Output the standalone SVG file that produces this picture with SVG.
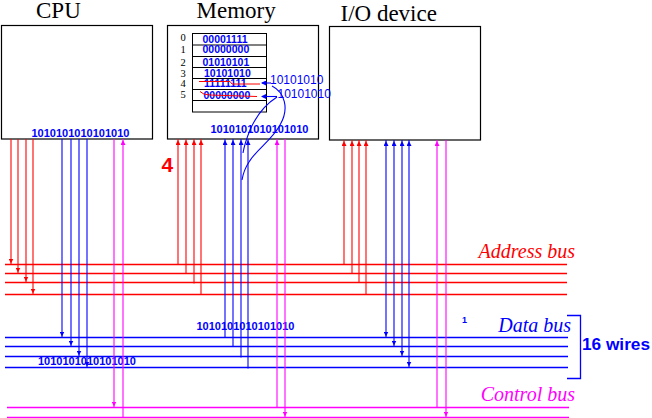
<svg xmlns="http://www.w3.org/2000/svg" width="652" height="418" viewBox="0 0 652 418">
<style>
.box{fill:#fff;stroke:#000;stroke-width:1.2}
.title{font-family:"Liberation Serif",serif;font-size:23px;fill:#000}
.bits{font-family:"Liberation Sans",Arial,sans-serif;font-weight:bold;font-size:11px;fill:#0000ff}
.cell{font-family:"Liberation Sans",Arial,sans-serif;font-weight:bold;font-size:10.5px;fill:#0000ff}
.lbl{font-family:"Liberation Serif",serif;font-size:10.5px;fill:#000}
.bus{fill:none;stroke-width:1.3}
.w{fill:none;stroke-width:1.1}
.r{stroke:#ff0000}.b{stroke:#0000ff}.m{stroke:#ff00ff}
.it{font-family:"Liberation Serif",serif;font-style:italic;font-size:20px}
</style>
<defs>
<marker id="ar" markerWidth="5" markerHeight="5" refX="6" refY="2.5" orient="auto" markerUnits="userSpaceOnUse"><path d="M0,0 L5,2.5 L0,5 z" fill="#ff0000"/></marker>
<marker id="ab" markerWidth="5" markerHeight="5" refX="6" refY="2.5" orient="auto-start-reverse" markerUnits="userSpaceOnUse"><path d="M0,0 L5,2.5 L0,5 z" fill="#0000ff"/></marker>
<marker id="am" markerWidth="5" markerHeight="5" refX="6" refY="2.5" orient="auto" markerUnits="userSpaceOnUse"><path d="M0,0 L5,2.5 L0,5 z" fill="#ff00ff"/></marker>
<marker id="abs" markerWidth="5" markerHeight="5" refX="4" refY="2.5" orient="auto" markerUnits="userSpaceOnUse"><path d="M0,0 L5,2.5 L0,5 z" fill="#0000ff"/></marker>
</defs>

<g id="cpu">
<text class="title" x="36" y="18">CPU</text>
<rect class="box" x="1.5" y="25.5" width="151" height="113.5"/>
<text class="bits" x="31.5" y="136.5">1010101010101010</text>
</g>

<g id="memory">
<text class="title" x="196.5" y="17.5">Memory</text>
<rect class="box" x="167.5" y="25.5" width="151" height="113.5"/>
<g fill="none" stroke="#000" stroke-width="1">
<rect x="192.5" y="33.5" width="74" height="78.5"/>
<path d="M192.5,45H266.5M192.5,56.5H266.5M192.5,67.5H266.5M192.5,78.5H266.5M192.5,89.5H266.5M192.5,100.5H266.5"/>
</g>
<g class="lbl">
<text x="180.5" y="41">0</text>
<text x="180.5" y="52.7">1</text>
<text x="180.5" y="66">2</text>
<text x="180.5" y="77.3">3</text>
<text x="180.5" y="87.3">4</text>
<text x="180.5" y="98.3">5</text>
</g>
<g class="cell">
<text x="202.5" y="42.5">00001111</text>
<text x="202.5" y="53">00000000</text>
<text x="202.5" y="66">01010101</text>
<text x="204" y="76.7">10101010</text>
<text x="204" y="87.3">11111111</text>
<text x="203.5" y="98.5">00000000</text>
</g>
<path d="M199,81.5 L230,81.5 L232,84 L260,84" fill="none" stroke="#ff0000" stroke-width="1"/>
<path d="M200,91.5 Q203,95 210,95 L257,96.5" fill="none" stroke="#ff0000" stroke-width="1"/>
<text class="bits" x="210.5" y="133">1010101010101010</text>
</g>

<g id="io">
<text class="title" x="340.5" y="20.5">I/O device</text>
<rect class="box" x="329.5" y="26.5" width="151" height="113.5"/>
</g>

<g id="buses">
<path class="bus r" d="M5,264.5H567M5,273.5H567M5,282.5H567M5,294.5H567"/>
<path class="bus b" d="M5,337.5H568M5,346.5H568M5,356.5H568M5,367.5H568"/>
<path class="bus m" d="M7,407.5H569M7,417.5H569"/>
<text class="it" x="575" y="258" text-anchor="end" fill="#ff0000">Address bus</text>
<text class="it" x="571" y="332" text-anchor="end" fill="#0000ff">Data bus</text>
<text class="it" x="575" y="401" text-anchor="end" fill="#ff00ff">Control bus</text>
<path d="M567,315.5H580.5V378.5H567" fill="none" stroke="#0000ff" stroke-width="1.3"/>
<text x="582" y="350" font-family="Liberation Sans,sans-serif" font-weight="bold" font-size="16" textLength="68" lengthAdjust="spacingAndGlyphs" fill="#0000ff">16 wires</text>
<text x="462" y="323" font-family="Liberation Sans,sans-serif" font-weight="bold" font-size="9" fill="#0000ff">1</text>
<text class="bits" x="196.5" y="329.5">1010101010101010</text>
<text class="bits" x="38" y="364.5">1010101010101010</text>
</g>

<g id="connectors">
<g class="w r" marker-end="url(#ar)">
<path d="M11,139V264.5"/><path d="M18,139V273.5"/><path d="M26,139V282.5"/><path d="M33,139V294.5"/>
</g>
<g class="w b" marker-end="url(#ab)">
<path d="M62,139V337.5"/><path d="M71,139V346.5"/><path d="M79,139V356.5"/><path d="M87,139V367.5"/>
</g>
<path class="w m" d="M114,139V407.5" marker-end="url(#am)"/>
<path class="w m" d="M123,417.5V139" marker-end="url(#am)"/>
<g class="w r" marker-end="url(#ar)">
<path d="M178,264.5V139"/><path d="M186,273.5V139"/><path d="M194,283.5V139"/><path d="M201,294.5V139"/>
</g>
<g class="w b" marker-end="url(#ab)">
<path d="M225,338V139"/><path d="M233,346.5V139"/><path d="M241,357.5V139"/><path d="M248,368.5V139"/>
</g>
<path class="w m" d="M277,407.5V139" marker-end="url(#am)"/>
<path class="w m" d="M285,139V417.5" marker-end="url(#am)"/>
<g class="w r" marker-end="url(#ar)">
<path d="M344,264.5V140"/><path d="M352,273.5V140"/><path d="M359,282.5V140"/><path d="M366,294.5V140"/>
</g>
<g class="w b" marker-start="url(#ab)" marker-end="url(#ab)">
<path d="M386,140V337.5"/><path d="M394,140V346.5"/><path d="M402,140V356.5"/><path d="M409,140V367.5"/>
</g>
<path class="w m" d="M437,407.5V140" marker-end="url(#am)"/>
<path class="w m" d="M446,140V417.5" marker-end="url(#am)"/>
<path class="w b" d="M271,83 H262" marker-end="url(#abs)"/>
<path class="w b" d="M277,96.5 H262" marker-end="url(#abs)"/>
<path class="w b" d="M272,86 C284,92 290,108 280,125 C272,140 256,150 249,162 C245,168 243,174 242,180"/>
<path class="w b" d="M277,97 C266,104 256,116 250,130 C246,140 244,147 243,153"/>
<text x="161.5" y="172" font-family="Liberation Sans,sans-serif" font-weight="bold" font-size="21" fill="#ff0000">4</text>
<text x="270" y="84.3" font-family="Liberation Sans,sans-serif" font-size="12" fill="#0000ff">10101010</text>
<text x="277.5" y="98" font-family="Liberation Sans,sans-serif" font-size="12" fill="#0000ff">10101010</text>
</g>
</svg>
